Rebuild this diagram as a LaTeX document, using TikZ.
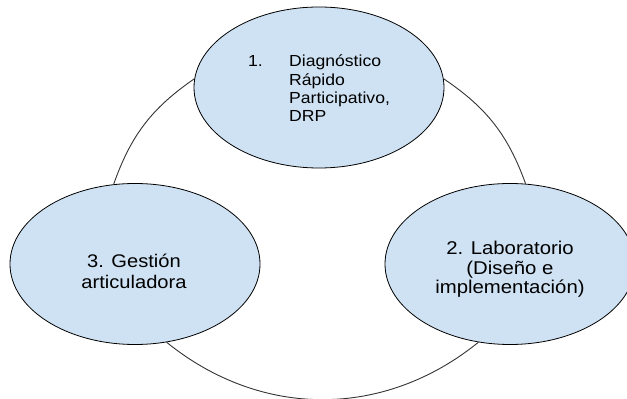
\documentclass[tikz,border=0pt]{standalone}
\usepackage{fontspec}
\setmainfont{Liberation Sans}[FakeStretch=1.1]
\usetikzlibrary{shapes.geometric}
\definecolor{bubble}{HTML}{CFE2F3}
\definecolor{edge}{HTML}{333333}
\tikzset{
  bubble/.style={ellipse, draw=black, line width=0.8pt, fill=bubble,
    minimum width=250pt, minimum height=161pt, inner sep=0pt},
  link/.style={draw=edge, line width=0.9pt},
  label/.style={inner sep=0pt, text=black}
}
\begin{document}
\begin{tikzpicture}[x=1pt,y=1pt]
\clip (0,0) rectangle (627,399);
\node[bubble] (e1) at (319,311.5) {};
\node[bubble] (e2) at (510,135) {};
\node[bubble] (e3) at (135,135) {};
\draw[link] (e1.176.5) to[bend right=18] (e3.105);
\draw[link] (e1.4.4) to[bend left=18] (e2.79);
\draw[link] (e3.292) to[bend right=39] (e2.248);
\node[label, anchor=base west] (t1) at (248,332)
  {\fontsize{16}{18.3}\selectfont\begin{tabular}[t]{@{}p{41pt}@{}l@{}}1.&Diagnóstico\\&Rápido\\&Participativo,\\&DRP\end{tabular}};
\node[label, anchor=base] (t2) at (510,144)
  {\fontsize{18.5}{19}\selectfont\begin{tabular}[t]{@{}c@{}}2. Laboratorio\\(Diseño e\\implementación)\end{tabular}};
\node[label, anchor=base] (t3) at (134,131)
  {\fontsize{18.3}{21}\selectfont\begin{tabular}[t]{@{}c@{}}3. Gestión\\articuladora\end{tabular}};
\end{tikzpicture}
\end{document}
